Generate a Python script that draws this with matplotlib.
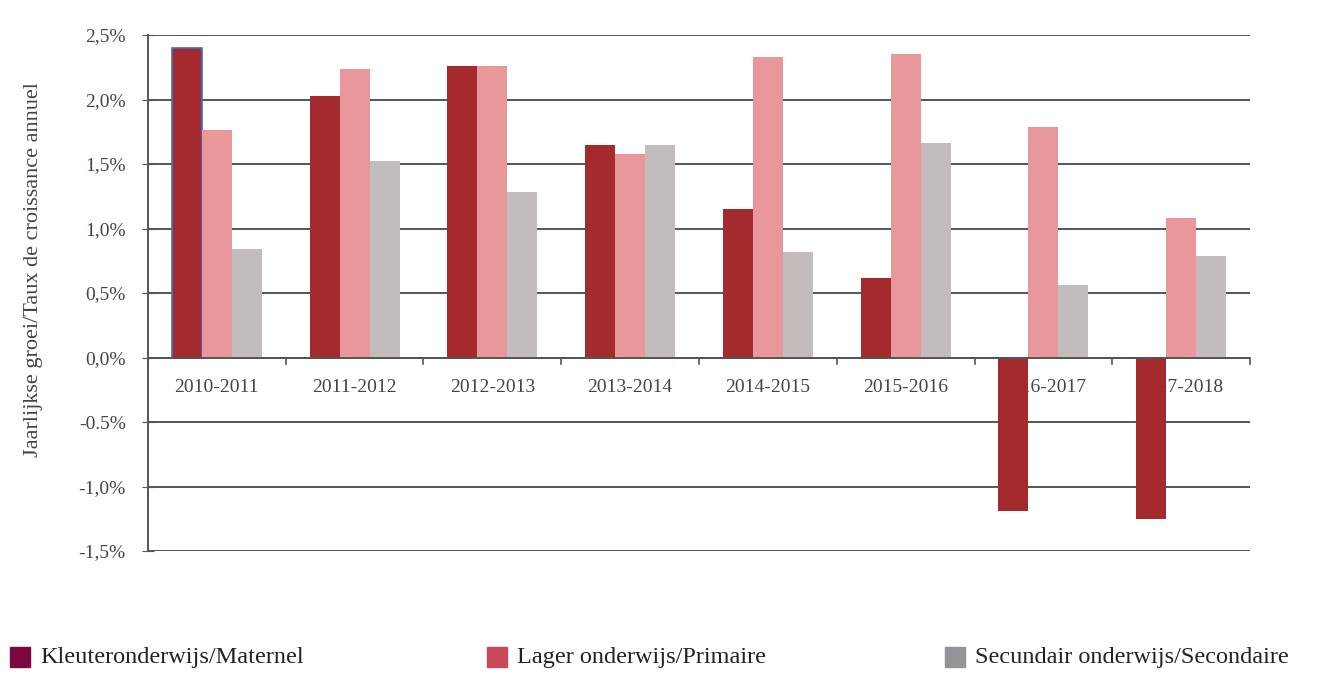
import numpy as np
from matplotlib import pyplot as plt
from matplotlib.patches import Rectangle

years = ["2010-2011", "2011-2012", "2012-2013", "2013-2014",
         "2014-2015", "2015-2016", "2016-2017", "2017-2018"]
maternel = [2.40, 2.03, 2.26, 1.65, 1.15, 0.62, -1.19, -1.25]
primaire = [1.76, 2.24, 2.26, 1.58, 2.33, 2.35, 1.79, 1.08]
secondaire = [0.84, 1.52, 1.28, 1.65, 0.82, 1.66, 0.56, 0.79]
yticks = [2.5, 2.0, 1.5, 1.0, 0.5, 0.0, -0.5, -1.0, -1.5]
ytick_labels = ["2,5%", "2,0%", "1,5%", "1,0%", "0,5%", "0,0%", "-0.5%", "-1,0%", "-1,5%"]
legend_labels = ["Kleuteronderwijs/Maternel", "Lager onderwijs/Primaire",
                 "Secundair onderwijs/Secondaire"]

bar_colors = ["#a52a2e", "#e8979b", "#c3bcbd"]
legend_colors = ["#7c0840", "#c84a5a", "#939398"]

plt.rcParams['font.family'] = ['Liberation Serif', 'DejaVu Serif']

W, H = 1319, 675
fig = plt.figure(figsize=(W / 100, H / 100), dpi=100)
ax = fig.add_axes([0.1122, 0.1837, 0.8355, 0.7644])

x = np.arange(len(years))
w = 0.218
bars = ax.bar(x - w, maternel, w, color=bar_colors[0], zorder=3)
bars[0].set_edgecolor("#3a6fd0")
bars[0].set_linewidth(1.2)
ax.bar(x, primaire, w, color=bar_colors[1], zorder=3)
ax.bar(x + w, secondaire, w, color=bar_colors[2], zorder=3)

ax.set_xlim(-0.5, len(years) - 0.5)
ax.set_ylim(-1.5, 2.5)
ax.set_yticks(yticks)
ax.set_yticklabels(ytick_labels, fontsize=14, color="#444444")
ax.tick_params(axis='y', length=8, direction='inout', color="#555555", pad=12)
ax.yaxis.grid(True, color="#555555", linewidth=1.4, zorder=1)

# category labels just below zero line
ax.set_xticks([])
for i, lab in enumerate(years):
    ax.text(i, -0.17, lab, ha='center', va='top', fontsize=14, color="#444444", zorder=2)
ax.axhline(0, color="#555555", linewidth=1.4, zorder=4)
for b in np.arange(len(years) + 1) - 0.5:
    ax.plot([b, b], [0, -0.05], color="#555555", linewidth=1.2, zorder=4, clip_on=False)

for s in ['top', 'right', 'bottom']:
    ax.spines[s].set_visible(False)
ax.spines['left'].set_color("#555555")
ax.spines['left'].set_linewidth(1.4)

ax.set_ylabel("Jaarlijkse groei/Taux de croissance annuel", fontsize=16, color="#444444")
ax.yaxis.set_label_coords(-0.095, 0.545)

# legend, placed by hand along the bottom edge
legend_x = [10, 487, 945]
for px, c, lab in zip(legend_x, legend_colors, legend_labels):
    fig.add_artist(Rectangle((px / W, (H - 667) / H), 20 / W, 20 / H,
                             transform=fig.transFigure, color=c))
    fig.text((px + 30) / W, (H - 657) / H, lab, ha='left', va='center',
             fontsize=17.5, color="#222222")

plt.savefig("out.png", dpi=100)
